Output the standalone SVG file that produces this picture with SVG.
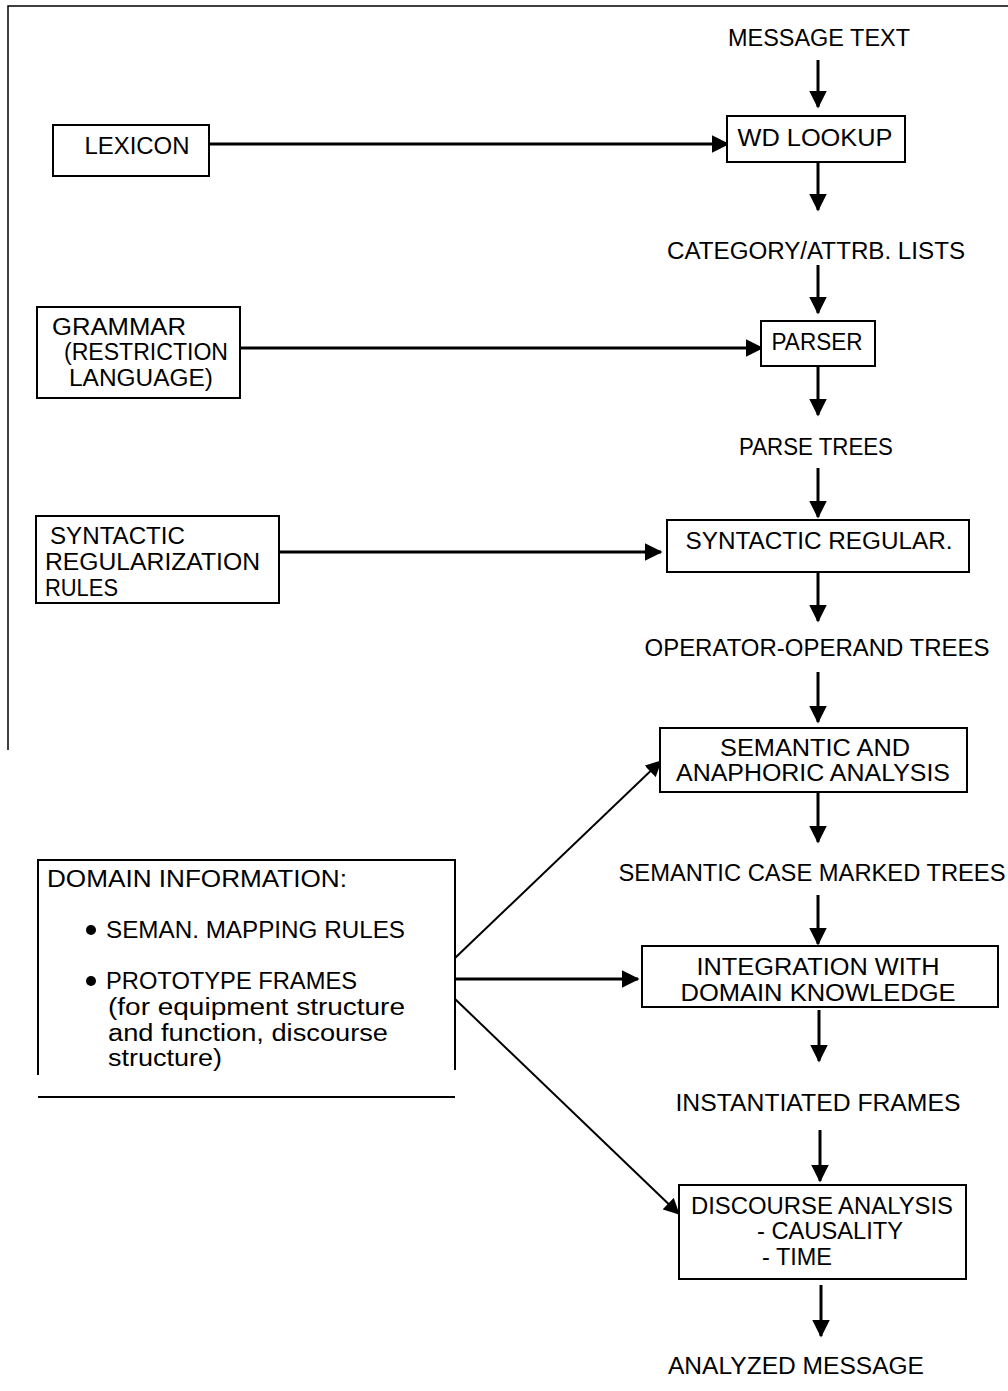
<svg xmlns="http://www.w3.org/2000/svg" width="1008" height="1391" viewBox="0 0 1008 1391">
<defs>
<marker id="ah" markerWidth="6" markerHeight="6" refX="5.5" refY="3" orient="auto" markerUnits="strokeWidth">
<path d="M0,0 L6,3 L0,6 Z" fill="#000"/>
</marker>
<marker id="ahs" markerWidth="8" markerHeight="8" refX="7.5" refY="4" orient="auto" markerUnits="strokeWidth">
<path d="M0,0 L8,4 L0,8 Z" fill="#000"/>
</marker>
<style>
text{font-family:"Liberation Sans","Noto Sans",Arial,sans-serif;font-size:23px;fill:#000}
.c{text-anchor:middle}
.box{fill:#fff;stroke:#000;stroke-width:2}
.v{stroke:#000;stroke-width:3;fill:none;marker-end:url(#ah)}
.h{stroke:#000;stroke-width:3;fill:none;marker-end:url(#ah)}
.d{stroke:#000;stroke-width:2;fill:none;marker-end:url(#ahs)}
.frame{stroke:#000;stroke-width:1.5;fill:none}
</style>
</defs>
<rect x="0" y="0" width="1008" height="1391" fill="#fff"/>
<g id="frame">
<path class="frame" d="M8,750 V6 H1008"/>
</g>
<g id="connectors">
<line class="v" x1="818" y1="60" x2="818" y2="107"/>
<line class="h" x1="209" y1="144" x2="728" y2="144"/>
<line class="v" x1="818" y1="162" x2="818" y2="210"/>
<line class="v" x1="818" y1="265" x2="818" y2="313"/>
<line class="h" x1="240" y1="348" x2="762" y2="348"/>
<line class="v" x1="818" y1="366" x2="818" y2="415"/>
<line class="v" x1="818" y1="468" x2="818" y2="517"/>
<line class="h" x1="279" y1="552" x2="661" y2="552"/>
<line class="v" x1="818" y1="572" x2="818" y2="621"/>
<line class="v" x1="818" y1="672" x2="818" y2="722"/>
<line class="v" x1="818" y1="792" x2="818" y2="842"/>
<line class="v" x1="818" y1="895" x2="818" y2="944"/>
<line class="v" x1="819" y1="1010" x2="819" y2="1061"/>
<line class="v" x1="820" y1="1130" x2="820" y2="1181"/>
<line class="v" x1="821" y1="1285" x2="821" y2="1336"/>
<line class="d" x1="455" y1="958" x2="661" y2="761"/>
<line class="h" x1="455" y1="979" x2="638" y2="979"/>
<line class="d" x1="455" y1="999" x2="679" y2="1214"/>
</g>
<g id="message-text"><text class="c" x="819" y="46" textLength="182" lengthAdjust="spacingAndGlyphs">MESSAGE TEXT</text></g>
<g id="wd-lookup">
<rect class="box" x="727" y="116" width="178" height="46"/>
<text class="c" x="815" y="146" textLength="155" lengthAdjust="spacingAndGlyphs">WD LOOKUP</text>
</g>
<g id="lexicon">
<rect class="box" x="53" y="125" width="156" height="51"/>
<text class="c" x="137" y="154" textLength="105" lengthAdjust="spacingAndGlyphs">LEXICON</text>
</g>
<g id="category-lists"><text class="c" x="816" y="259" textLength="298" lengthAdjust="spacingAndGlyphs">CATEGORY/ATTRB. LISTS</text></g>
<g id="parser">
<rect class="box" x="761" y="321" width="114" height="45"/>
<text class="c" x="817" y="350" textLength="91" lengthAdjust="spacingAndGlyphs">PARSER</text>
</g>
<g id="grammar">
<rect class="box" x="37" y="307" width="203" height="91"/>
<text x="52" y="335" textLength="134" lengthAdjust="spacingAndGlyphs">GRAMMAR</text>
<text x="64" y="360" textLength="164" lengthAdjust="spacingAndGlyphs">(RESTRICTION</text>
<text x="69" y="386" textLength="144" lengthAdjust="spacingAndGlyphs">LANGUAGE)</text>
</g>
<g id="parse-trees"><text class="c" x="816" y="455" textLength="154" lengthAdjust="spacingAndGlyphs">PARSE TREES</text></g>
<g id="syntactic-regular">
<rect class="box" x="667" y="520" width="302" height="52"/>
<text class="c" x="819" y="549" textLength="267" lengthAdjust="spacingAndGlyphs">SYNTACTIC REGULAR.</text>
</g>
<g id="syntactic-rules">
<rect class="box" x="36" y="516" width="243" height="87"/>
<text x="50" y="544" textLength="135" lengthAdjust="spacingAndGlyphs">SYNTACTIC</text>
<text x="45" y="570" textLength="215" lengthAdjust="spacingAndGlyphs">REGULARIZATION</text>
<text x="45" y="596" textLength="73" lengthAdjust="spacingAndGlyphs">RULES</text>
</g>
<g id="operator-operand"><text class="c" x="817" y="656" textLength="345" lengthAdjust="spacingAndGlyphs">OPERATOR-OPERAND TREES</text></g>
<g id="semantic-analysis">
<rect class="box" x="660" y="728" width="307" height="64"/>
<text class="c" x="815" y="756" textLength="190" lengthAdjust="spacingAndGlyphs">SEMANTIC AND</text>
<text class="c" x="813" y="781" textLength="274" lengthAdjust="spacingAndGlyphs">ANAPHORIC ANALYSIS</text>
</g>
<g id="semantic-case"><text class="c" x="812" y="881" textLength="387" lengthAdjust="spacingAndGlyphs">SEMANTIC CASE MARKED TREES</text></g>
<g id="integration">
<rect class="box" x="642" y="946" width="356" height="61"/>
<text class="c" x="818" y="975" textLength="243" lengthAdjust="spacingAndGlyphs">INTEGRATION WITH</text>
<text class="c" x="818" y="1001" textLength="275" lengthAdjust="spacingAndGlyphs">DOMAIN KNOWLEDGE</text>
</g>
<g id="instantiated-frames"><text class="c" x="818" y="1111" textLength="285" lengthAdjust="spacingAndGlyphs">INSTANTIATED FRAMES</text></g>
<g id="discourse-analysis">
<rect class="box" x="679" y="1185" width="287" height="94"/>
<text x="691" y="1214" textLength="262" lengthAdjust="spacingAndGlyphs">DISCOURSE ANALYSIS</text>
<text x="757" y="1239" textLength="146" lengthAdjust="spacingAndGlyphs">- CAUSALITY</text>
<text x="762" y="1265" textLength="70" lengthAdjust="spacingAndGlyphs">- TIME</text>
</g>
<g id="analyzed-message"><text class="c" x="796" y="1374" textLength="256" lengthAdjust="spacingAndGlyphs">ANALYZED MESSAGE</text></g>
<g id="domain-information">
<path d="M38,1075 V860 H455 V1070" fill="none" stroke="#000" stroke-width="2"/>
<line x1="38" y1="1097" x2="455" y2="1097" stroke="#000" stroke-width="2"/>
<text x="47" y="887" textLength="300" lengthAdjust="spacingAndGlyphs">DOMAIN INFORMATION:</text>
<circle cx="91" cy="930" r="5"/>
<text x="106" y="938" textLength="299" lengthAdjust="spacingAndGlyphs">SEMAN. MAPPING RULES</text>
<circle cx="91" cy="981" r="5"/>
<text x="106" y="989" textLength="251" lengthAdjust="spacingAndGlyphs">PROTOTYPE FRAMES</text>
<text x="108" y="1015" textLength="297" lengthAdjust="spacingAndGlyphs">(for equipment structure</text>
<text x="108" y="1041" textLength="280" lengthAdjust="spacingAndGlyphs">and function, discourse</text>
<text x="108" y="1066" textLength="114" lengthAdjust="spacingAndGlyphs">structure)</text>
</g>
</svg>
